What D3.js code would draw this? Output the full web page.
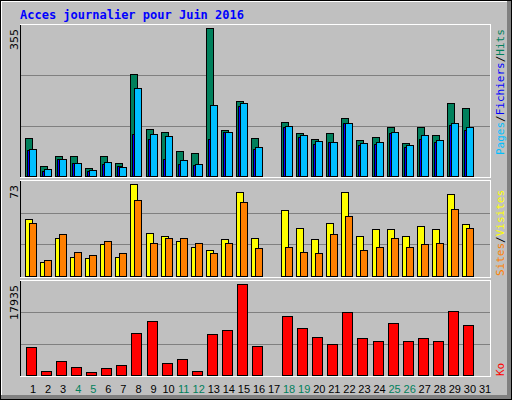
<!DOCTYPE html>
<html><head><meta charset="utf-8">
<script src="https://cdn.jsdelivr.net/npm/d3@7"></script>
<style>body{margin:0;background:#fff}</style>
</head><body>
<script>
var days = d3.range(1, 32);
var weekend = [4, 5, 11, 12, 18, 19, 25, 26];
var hits     = [92,24,48,48,19,48,31,244,113,106,60,56,355,111,179,92,0,130,104,89,104,140,87,94,118,80,118,99,174,164,0];
var fichiers = [65,17,41,31,14,34,22,210,101,97,39,29,171,106,174,70,0,121,99,85,82,128,80,82,106,75,99,87,128,118,0];
var pages    = [63,12,41,31,12,29,24,101,89,41,29,27,89,106,167,65,0,118,94,77,82,128,75,77,104,70,89,82,123,111,0];
var visites  = [45,11,30,15,14,25,15,73,34,32,28,23,21,29,67,30,0,52,38,29,42,67,32,37,37,32,40,37,65,41,0];
var sites    = [42,13,33,19,17,28,18,60,26,30,30,26,18,26,59,22,0,23,19,18,33,48,21,23,30,23,25,26,53,38,0];
var ko       = [5614,724,2680,1506,528,1310,1897,8352,10700,2288,3071,724,8157,8939,17935,5809,0,11677,9330,7570,6200,12460,7374,6787,10310,6787,7374,6787,12655,9917,0];

var svg = d3.select("body").append("svg").attr("width", 512).attr("height", 400);
svg.append("rect").attr("x", 0.5).attr("y", 0.5).attr("width", 511).attr("height", 399).attr("fill", "#c0c0c0").attr("stroke", "#000");
svg.append("line").attr("x1", 1).attr("x2", 511).attr("y1", 1.5).attr("y2", 1.5).attr("stroke", "#fff");
svg.append("line").attr("x1", 1.5).attr("x2", 1.5).attr("y1", 1).attr("y2", 396).attr("stroke", "#fff");
svg.append("rect").attr("x", 1).attr("y", 395).attr("width", 510).attr("height", 4).attr("fill", "#808080");
svg.append("rect").attr("x", 507).attr("y", 1).attr("width", 4).attr("height", 398).attr("fill", "#808080");

svg.append("text").attr("x", 20).attr("y", 19).text("Acces journalier pour Juin 2016")
  .attr("font-family", "DejaVu Sans Mono").attr("font-weight", "bold").attr("font-size", 12).attr("fill", "#0000ff");

var x = d3.scaleLinear().domain([1, 31]).range([25, 477]);

function panel(top, bottom, max, label) {
  var y = d3.scaleLinear().domain([0, max]).range([bottom, top + 3]);
  svg.append("line").attr("x1", 20).attr("x2", 491).attr("y1", top - 0.5).attr("y2", top - 0.5).attr("stroke", "#fff");
  svg.append("line").attr("x1", 20.5).attr("x2", 20.5).attr("y1", top).attr("y2", bottom + 1).attr("stroke", "#000");
  svg.append("line").attr("x1", 20).attr("x2", 491).attr("y1", bottom + 1.5).attr("y2", bottom + 1.5).attr("stroke", "#fff");
  svg.append("line").attr("x1", 490.5).attr("x2", 490.5).attr("y1", top).attr("y2", bottom + 1).attr("stroke", "#fff");
  var h = bottom - top;
  [1, 2].forEach(function(k) {
    svg.append("line").attr("x1", 21).attr("x2", 490).attr("y1", Math.round(bottom - h * k / 3) + 0.5)
      .attr("y2", Math.round(bottom - h * k / 3) + 0.5).attr("stroke", "#808080");
  });
  svg.append("text").attr("transform", "translate(18," + (top + 4) + ") rotate(-90)").attr("text-anchor", "end")
    .attr("font-family", "DejaVu Sans").attr("font-size", 11).text(label);
  return y;
}

function bars(y, data, dx, w, color) {
  svg.append("g").selectAll("rect").data(data).join("rect")
    .attr("display", function(d) { return d > 0 ? null : "none"; })
    .attr("x", function(d, i) { return Math.round(x(i + 1)) + dx + 0.5; })
    .attr("y", function(d) { return Math.round(y(d)) + 0.5; })
    .attr("width", w)
    .attr("height", function(d) { return y.range()[0] - Math.round(y(d)); })
    .attr("fill", color).attr("stroke", "#000");
}

var y1 = panel(25, 176, d3.max(hits), "355");
bars(y1, hits, 0, 7, "#00805c");
bars(y1, pages, 2, 5, "#0000ff");
bars(y1, fichiers, 4, 7, "#00bfff");

var y2 = panel(181, 276, d3.max(visites), "73");
bars(y2, visites, 0, 7, "#ffff00");
bars(y2, sites, 4, 7, "#ff8000");

var y3 = panel(281, 375, d3.max(ko), "17935");
bars(y3, ko, 1, 10, "#ff0000");

svg.append("g").selectAll("text").data(days).join("text")
  .attr("x", function(d) { return x(d) + 8; }).attr("y", 393).attr("text-anchor", "middle")
  .attr("font-family", "Liberation Sans").attr("font-size", 11)
  .attr("fill", function(d) { return weekend.indexOf(d) >= 0 ? "#00805c" : "#000"; })
  .text(function(d) { return d; });

function sideLabel(yPos, parts) {
  var t = svg.append("text").attr("transform", "translate(504," + yPos + ") rotate(-90)")
    .attr("font-family", "DejaVu Sans Mono").attr("font-size", 11);
  parts.forEach(function(p) { t.append("tspan").attr("fill", p[1]).text(p[0]); });
}
sideLabel(155, [["Pages", "#00bfff"], ["/", "#000"], ["Fichiers", "#0000ff"], ["/", "#000"], ["Hits", "#00805c"]]);
sideLabel(276, [["Sites", "#ff8000"], ["/", "#000"], ["Visites", "#ffff00"]]);
sideLabel(376, [["Ko", "#ff0000"]]);
</script>
</body></html>
